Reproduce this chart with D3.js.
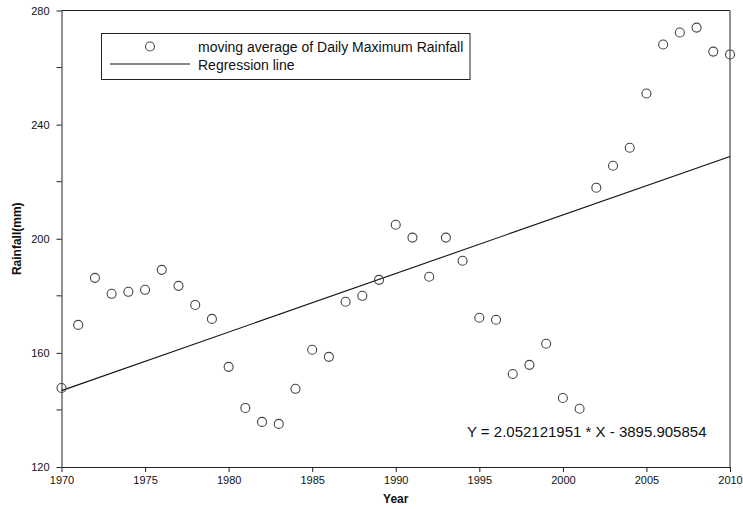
<!DOCTYPE html>
<html>
<head>
<meta charset="utf-8">
<script src="https://cdn.jsdelivr.net/npm/d3@7"></script>
<style>
  html, body { margin: 0; padding: 0; background: #fff; }
  svg { display: block; font-family: "Liberation Sans", Arial, sans-serif; }
</style>
</head>
<body>
<svg id="chart" width="743" height="509"></svg>
<script>
const years = [1970,1971,1972,1973,1974,1975,1976,1977,1978,1979,1980,1981,1982,1983,1984,1985,1986,1987,1988,1989,1990,1991,1992,1993,1994,1995,1996,1997,1998,1999,2000,2001,2002,2003,2004,2005,2006,2007,2008,2009,2010];
const rainfall = [147.7,169.8,186.3,180.7,181.4,182.1,189.1,183.5,176.8,171.9,155.1,140.7,135.8,135.1,147.4,161.1,158.6,177.9,180.0,185.6,204.9,200.4,186.7,200.4,192.3,172.3,171.6,152.6,155.8,163.2,144.2,140.4,217.9,225.6,231.9,250.9,268.1,272.3,274.0,265.6,264.6];
const slope = 2.052121951;
const intercept = -3895.905854;
const xTicks = [1970,1975,1980,1985,1990,1995,2000,2005,2010];
const yTicks = [120,160,200,240,280];
const yMinorTicks = [140,180,220,260];
const legendLabels = ["moving average of Daily Maximum Rainfall","Regression line"];
const equationLabel = "Y = 2.052121951 * X - 3895.905854";

const svg = d3.select("#chart");
const L = 61.5, R = 730, T = 10.5, B = 467;
const x = d3.scaleLinear().domain([1970, 2010]).range([L, R]);
const y = d3.scaleLinear().domain([120, 280]).range([B, T]);
const axisColor = "#222";

// frame (top & right)
svg.append("path")
  .attr("d", `M${L},${T}H${R}V${B}`)
  .attr("fill", "none").attr("stroke", axisColor).attr("stroke-width", 1);

// x axis
const gx = svg.append("g").attr("transform", `translate(0,${B})`)
  .call(d3.axisBottom(x).tickValues(xTicks).tickFormat(d3.format("d")).tickSizeInner(5).tickSizeOuter(0).tickPadding(4));
gx.select(".domain").attr("stroke", axisColor);
gx.selectAll(".tick line").attr("stroke", axisColor);
gx.selectAll("text").attr("font-size", 11).attr("fill", "#111").attr("font-family", "Liberation Sans, Arial, sans-serif");

// y axis
const gy = svg.append("g").attr("transform", `translate(${L},0)`)
  .call(d3.axisLeft(y).tickValues(yTicks).tickFormat(d3.format("d")).tickSizeInner(5).tickSizeOuter(0).tickPadding(7));
gy.select(".domain").attr("stroke", axisColor);
gy.selectAll(".tick line").attr("stroke", axisColor);
gy.selectAll("text").attr("font-size", 11).attr("fill", "#111").attr("font-family", "Liberation Sans, Arial, sans-serif");
gy.selectAll(".minor").data(yMinorTicks).enter().append("line")
  .attr("x1", -5).attr("x2", 0)
  .attr("y1", d => y(d)).attr("y2", d => y(d))
  .attr("stroke", axisColor);

// axis titles
svg.append("text").attr("x", (L + R) / 2).attr("y", 503)
  .attr("text-anchor", "middle").attr("font-size", 12).attr("font-weight", "bold").attr("fill", "#111")
  .text("Year");
svg.append("text").attr("transform", `translate(21,${(T + B) / 2}) rotate(-90)`)
  .attr("text-anchor", "middle").attr("font-size", 12).attr("font-weight", "bold").attr("fill", "#111")
  .text("Rainfall(mm)");

// regression line
svg.append("line")
  .attr("x1", x(1970)).attr("y1", y(slope * 1970 + intercept))
  .attr("x2", x(2010)).attr("y2", y(slope * 2010 + intercept))
  .attr("stroke", "#111").attr("stroke-width", 1.1);

// points
svg.append("g").selectAll("circle").data(years.map((d, i) => [d, rainfall[i]])).enter()
  .append("circle")
  .attr("cx", d => x(d[0])).attr("cy", d => y(d[1])).attr("r", 4.5)
  .attr("fill", "none").attr("stroke", "#444").attr("stroke-width", 1.1);

// legend
const lg = svg.append("g");
lg.append("rect").attr("x", 101.5).attr("y", 33.5).attr("width", 368.5).attr("height", 46)
  .attr("fill", "#fff").attr("stroke", "#222").attr("stroke-width", 1);
lg.append("circle").attr("cx", 150).attr("cy", 46.5).attr("r", 4.5)
  .attr("fill", "none").attr("stroke", "#444").attr("stroke-width", 1.1);
lg.append("line").attr("x1", 110).attr("x2", 190).attr("y1", 64).attr("y2", 64)
  .attr("stroke", "#111").attr("stroke-width", 1.1);
lg.append("text").attr("x", 198).attr("y", 52).attr("font-size", 14).attr("fill", "#111").text(legendLabels[0]);
lg.append("text").attr("x", 198).attr("y", 69.5).attr("font-size", 14).attr("fill", "#111").text(legendLabels[1]);

// equation
svg.append("text").attr("x", 706.5).attr("y", 437).attr("text-anchor", "end")
  .attr("font-size", 15).attr("fill", "#111").text(equationLabel);
</script>
</body>
</html>
